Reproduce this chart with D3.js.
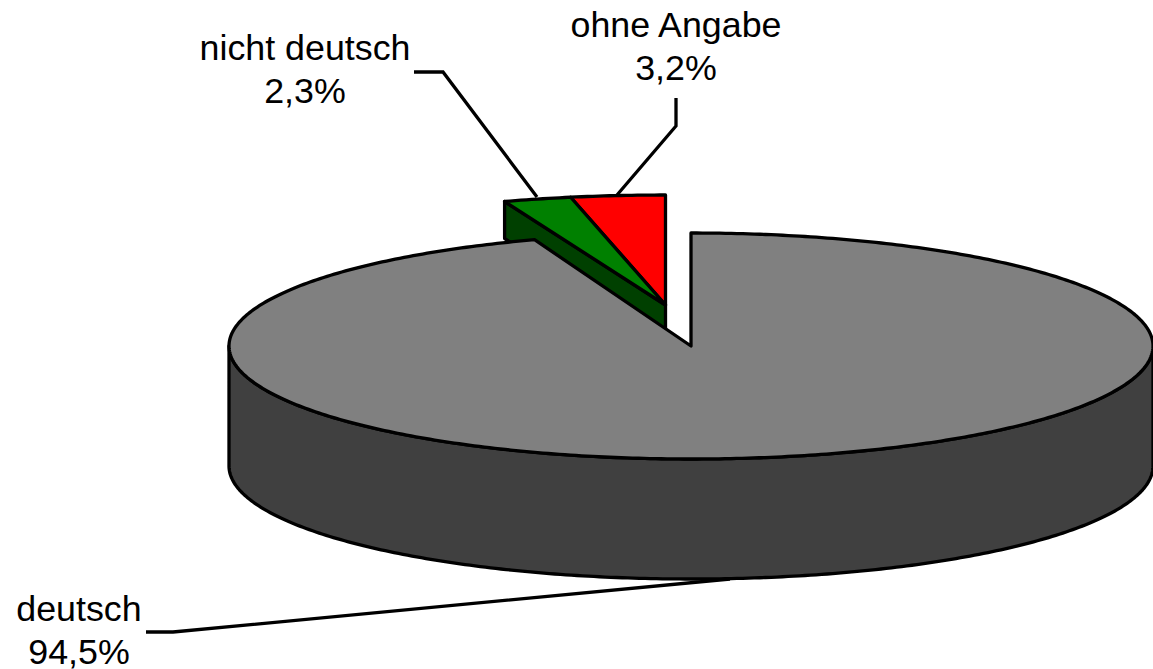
<!DOCTYPE html>
<html><head><meta charset="utf-8"><style>html,body{margin:0;background:#fff}svg{display:block}</style>
<script src="https://cdn.jsdelivr.net/npm/d3@7"></script></head><body><svg id="c" width="1153" height="669"></svg>
<script>
const categories=["deutsch","nicht deutsch","ohne Angabe"];
const values=[94.5,2.3,3.2];
const valueLabels=["94,5%","2,3%","3,2%"];
const topColors=["#808080","#008000","#ff0000"];
const sideColors=["#404040","#004000","#800000"];
const svg=d3.select("#c");
const cx=691,cy=346,rx=462,ry=113,depth=120;
const total=d3.sum(values);
const angle=d3.scaleLinear().domain([0,total]).range([0,2*Math.PI]);
let acc=0;
const arcs=values.map(v=>{const a={a0:angle(acc),a1:angle(acc+v)};acc+=v;return a;});
const pt=(a,c,e)=>[c[0]+e[0]*Math.sin(a),c[1]-e[1]*Math.cos(a)];
const line=d3.line();
function rim(a0,a1,c,e,dy=0){const n=Math.max(2,Math.ceil((a1-a0)*80));return d3.range(n+1).map(i=>{const p=pt(a0+(a1-a0)*i/n,c,e);return [p[0],p[1]+dy];});}
const SW=3.3;
function P(d,fill){return svg.append("path").attr("d",d).attr("fill",fill).attr("stroke","#000").attr("stroke-width",SW).attr("stroke-linejoin","round");}
// detached slices
const oc=[665.5,305],oe=[475,110],eDepth=37;
P(line([...rim(arcs[2].a0,arcs[2].a1,oc,oe),oc])+"Z",topColors[2]);
{const a=arcs[1];const s=pt(a.a0,oc,oe);
 P(line([s,[s[0],s[1]+eDepth],[oc[0],oc[1]+eDepth],oc])+"Z",sideColors[1]);
 P(line([...rim(a.a0,a.a1,oc,oe),oc])+"Z",topColors[1]);
}
// main pie
const m=arcs[0],c=[cx,cy],e=[rx,ry];
P(line([...rim(Math.PI/2,3*Math.PI/2,c,e),...rim(Math.PI/2,3*Math.PI/2,c,e,depth).reverse()])+"Z",sideColors[0]);
P(line([...rim(m.a0,m.a1,c,e),c])+"Z",topColors[0]);
// leaders
const leaders=[[[146,632],[173,632],[730,579]],[[414,72],[443,72],[537,197]],[[676,98],[676,126],[617,195]]];
leaders.forEach(l=>svg.append("path").attr("d",line(l)).attr("fill","none").attr("stroke","#000").attr("stroke-width",SW));
// labels
const labelPos=[[79,621],[305,60],[676,37]];
categories.forEach((t,i)=>{
  const g=svg.append("text").attr("text-anchor","middle").attr("font-family","Liberation Sans, Arial, sans-serif").attr("font-size",35.8).attr("fill","#000");
  g.append("tspan").attr("x",labelPos[i][0]).attr("y",labelPos[i][1]).text(t);
  g.append("tspan").attr("x",labelPos[i][0]).attr("y",labelPos[i][1]+43).text(valueLabels[i]);
});
</script></body></html>
